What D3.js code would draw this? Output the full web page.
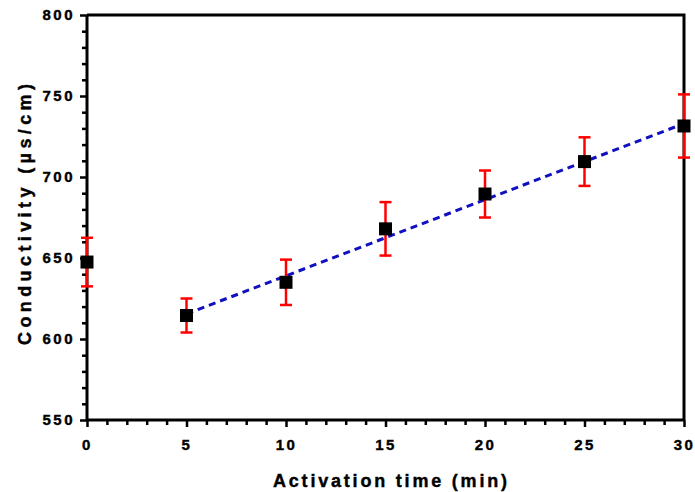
<!DOCTYPE html>
<html>
<head>
<meta charset="utf-8">
<script src="https://cdn.jsdelivr.net/npm/d3@7"></script>
<style>
  html, body { margin: 0; padding: 0; background: #fff; }
  svg { display: block; }
  text { font-family: "Liberation Sans", Arial, sans-serif; font-weight: bold; }
</style>
</head>
<body>
<div id="chart"></div>
<script>
// ---- data ----
const times = [0, 5, 10, 15, 20, 25, 30];
const conductivity = [647.5, 614.5, 635, 668, 689.5, 709.5, 731.5];
const errors = [15, 10.5, 14, 16.5, 14.5, 15, 19.5];
const fitTimes = [5, 30];
const fitValues = [615.5, 733];
const xTicks = [0, 5, 10, 15, 20, 25, 30];
const yTicks = [550, 600, 650, 700, 750, 800];
const xTitle = "Activation time (min)";
const yTitle = "Conductivity (\u00b5s/cm)";

// ---- layout ----
const W = 695, H = 492;
const mL = 87, mR = 684, mT = 15, mB = 420;

const svg = d3.select("#chart").append("svg").attr("width", W).attr("height", H);

const x = d3.scaleLinear().domain([0, 30]).range([mL, mR]);
const y = d3.scaleLinear().domain([550, 800]).range([mB, mT]);

// frame (top & right)
svg.append("path")
  .attr("d", `M${mL},${mT}H${mR}V${mB}`)
  .attr("fill", "none").attr("stroke", "#000").attr("stroke-width", 3);

// minor ticks
const xMinor = d3.range(0, 31, 1).filter(v => !xTicks.includes(v));
const yMinor = d3.range(550, 801, 10).filter(v => !yTicks.includes(v));

const xAxis = svg.append("g").attr("transform", `translate(0,${mB})`)
  .call(d3.axisBottom(x).tickValues(xTicks).tickSize(7).tickPadding(12).tickFormat(d3.format("d")));
const yAxis = svg.append("g").attr("transform", `translate(${mL},0)`)
  .call(d3.axisLeft(y).tickValues(yTicks).tickSize(7).tickPadding(5).tickFormat(d3.format("d")));

svg.append("g").attr("transform", `translate(0,${mB})`)
  .call(d3.axisBottom(x).tickValues(xMinor).tickSize(5).tickFormat(""))
  .call(g => g.select(".domain").remove());
svg.append("g").attr("transform", `translate(${mL},0)`)
  .call(d3.axisLeft(y).tickValues(yMinor).tickSize(5).tickFormat(""))
  .call(g => g.select(".domain").remove());

svg.selectAll(".domain").attr("stroke", "#000").attr("stroke-width", 3);
svg.selectAll(".tick line").attr("stroke", "#000").attr("stroke-width", 2.5);
svg.selectAll(".tick text")
  .attr("fill", "#000")
  .attr("stroke", "#000").attr("stroke-width", 0.4)
  .style("font-size", "15px")
  .style("font-weight", "bold")
  .style("letter-spacing", "2.5px")
  .style("font-family", "'Liberation Sans', Arial, sans-serif");
xAxis.selectAll(".domain").attr("d", `M${mL},0H${mR}`);
yAxis.selectAll(".domain").attr("d", `M0,${mT}V${mB}`);

// fit line
svg.append("path")
  .datum(fitTimes.map((t, i) => [t, fitValues[i]]))
  .attr("d", d3.line().x(d => x(d[0])).y(d => y(d[1])))
  .attr("fill", "none").attr("stroke", "#1010c0").attr("stroke-width", 3)
  .attr("stroke-dasharray", "7,5");

// error bars
const eb = svg.append("g").attr("stroke", "#ff0000").attr("stroke-width", 2.5).attr("fill", "none");
times.forEach((t, i) => {
  const cx = x(t), y1 = y(conductivity[i] + errors[i]), y2 = y(conductivity[i] - errors[i]);
  eb.append("line").attr("x1", cx).attr("x2", cx).attr("y1", y1).attr("y2", y2);
  eb.append("line").attr("x1", cx - 6).attr("x2", cx + 6).attr("y1", y1).attr("y2", y1);
  eb.append("line").attr("x1", cx - 6).attr("x2", cx + 6).attr("y1", y2).attr("y2", y2);
});

// markers
const ms = 13;
svg.append("g").selectAll("rect").data(times).join("rect")
  .attr("x", (d) => x(d) - ms / 2)
  .attr("y", (d, i) => y(conductivity[i]) - ms / 2)
  .attr("width", ms).attr("height", ms)
  .attr("fill", "#000");

// axis titles
svg.append("text")
  .attr("x", 390 + 1.4).attr("y", 487)
  .attr("text-anchor", "middle")
  .attr("stroke", "#000").attr("stroke-width", 0.4)
  .style("font-size", "18px").style("letter-spacing", "2.8px")
  .text(xTitle);
svg.append("text")
  .attr("transform", `translate(31,${214.5 - 2.2}) rotate(-90)`)
  .attr("text-anchor", "middle")
  .attr("stroke", "#000").attr("stroke-width", 0.4)
  .style("font-size", "18px").style("letter-spacing", "4.4px")
  .text(yTitle);
</script>
</body>
</html>
